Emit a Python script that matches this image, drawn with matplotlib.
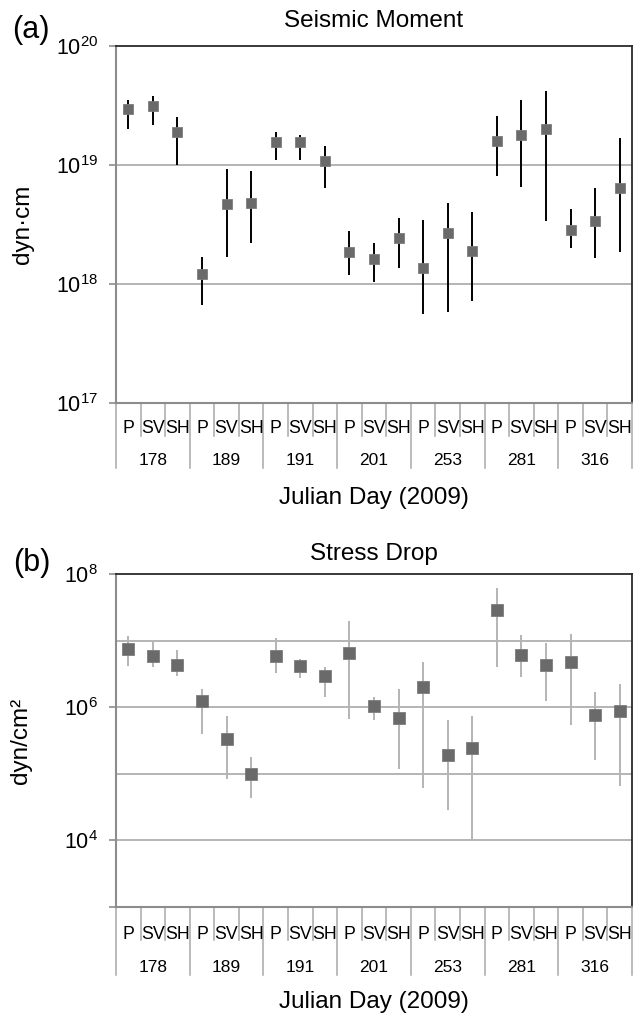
import matplotlib
matplotlib.use('Agg')
import matplotlib.pyplot as plt
import numpy as np
from matplotlib.transforms import blended_transform_factory
from matplotlib.ticker import FixedLocator, FixedFormatter, NullLocator

plt.rcParams['font.family'] = ['Liberation Sans', 'DejaVu Sans']
plt.rcParams['mathtext.fontset'] = 'custom'
plt.rcParams['mathtext.rm'] = 'Liberation Sans'
plt.rcParams['mathtext.it'] = 'Liberation Sans:italic'

# ---------------- data ----------------
days = ['178', '189', '191', '201', '253', '281', '316']
phases = ['P', 'SV', 'SH']

moment = [2.93e19, 3.14e19, 1.9e19, 1.21e18, 4.68e18, 4.82e18, 1.57e19, 1.55e19, 1.08e19,
          1.86e18, 1.62e18, 2.42e18, 1.37e18, 2.66e18, 1.9e18, 1.58e19, 1.78e19, 2.0e19,
          2.86e18, 3.37e18, 6.4e18]
moment_hi = [3.5e19, 3.78e19, 2.53e19, 1.69e18, 9.3e18, 8.9e18, 1.9e19, 1.8e19, 1.44e19,
             2.78e18, 2.2e18, 3.6e18, 3.44e18, 4.8e18, 4.06e18, 2.6e19, 3.5e19, 4.16e19,
             4.27e18, 6.4e18, 1.69e19]
moment_lo = [2.0e19, 2.15e19, 1.0e19, 6.7e17, 1.7e18, 2.2e18, 1.1e19, 1.1e19, 6.4e18,
             1.19e18, 1.03e18, 1.35e18, 5.6e17, 5.8e17, 7.2e17, 8.15e18, 6.56e18, 3.37e18,
             2.0e18, 1.66e18, 1.86e18]

stress = [7.6e6, 5.9e6, 4.3e6, 1.24e6, 3.3e5, 1.0e5, 5.9e6, 4.1e6, 2.9e6,
          6.5e6, 1.03e6, 7.0e5, 2.02e6, 1.92e5, 2.4e5, 2.9e7, 6.1e6, 4.3e6,
          4.7e6, 7.6e5, 8.7e5]
stress_hi = [1.18e7, 9.6e6, 7.3e6, 1.87e6, 7.3e5, 1.77e5, 1.09e7, 5.3e6, 3.95e6,
             1.94e7, 1.41e6, 1.87e6, 4.7e6, 6.4e5, 7.3e5, 6.1e7, 1.2e7, 9.1e6,
             1.24e7, 1.68e6, 2.2e6]
stress_lo = [4.2e6, 3.95e6, 2.9e6, 3.97e5, 8.45e4, 4.3e4, 3.3e6, 2.76e6, 1.43e6,
             6.7e5, 6.5e5, 1.2e5, 6.2e4, 2.9e4, 1.0e4, 4.0e6, 2.8e6, 1.24e6,
             5.4e5, 1.63e5, 6.5e4]

top_ticks = [1e17, 1e18, 1e19, 1e20]
top_ticklabels = [r'$10^{17}$', r'$10^{18}$', r'$10^{19}$', r'$10^{20}$']
top_grid = [1e18, 1e19]
bot_ticks = [1e3, 1e4, 1e6, 1e8]
bot_ticklabels = ['', r'$10^{4}$', r'$10^{6}$', r'$10^{8}$']
bot_grid = [1e4, 1e5, 1e6, 1e7]

# ---------------- figure ----------------
W, H = 633, 1021
fig = plt.figure(figsize=(W / 100, H / 100), dpi=100)


def px_axes(left, top, right, bottom):
    return fig.add_axes([left / W, 1 - bottom / H, (right - left) / W, (bottom - top) / H])


def panel(ax, vals, hi, lo, ecolor, msize, ylim, ticks, ticklabels, grid, hpx,
          cat_base, grp_base, cat_sep, grp_sep):
    vals = np.array(vals); hi = np.array(hi); lo = np.array(lo)
    labels = [p for _ in days for p in phases]
    n = len(labels)
    x = np.arange(n) + 0.5
    ax.errorbar(x, vals, yerr=[vals - lo, hi - vals], fmt='none', ecolor=ecolor,
                elinewidth=1.4, capsize=0, zorder=3)
    ax.plot(x, vals, 's', ms=msize, mfc='#6a6a6a', mec='#7c7c7c', mew=0.6, zorder=4,
            linestyle='none')
    ax.set_yscale('log')
    ax.set_ylim(ylim)
    ax.set_xlim(0, n)
    for g in grid:
        ax.axhline(g, color='#a8a8a8', lw=1.2, zorder=1)
    ax.yaxis.set_major_locator(FixedLocator(ticks))
    ax.yaxis.set_major_formatter(FixedFormatter(ticklabels))
    ax.yaxis.set_minor_locator(NullLocator())
    ax.tick_params(axis='y', length=5, width=1.2, color='#8c8c8c', pad=8, labelsize=15.5)
    ax.set_xticks([])
    for s in ['top', 'right']:
        ax.spines[s].set_color('#2a2a2a')
        ax.spines[s].set_linewidth(1.3)
    for s in ['left', 'bottom']:
        ax.spines[s].set_color('#8c8c8c')
        ax.spines[s].set_linewidth(1.5)
    trans = blended_transform_factory(ax.transData, ax.transAxes)
    for i in range(n + 1):
        depth = grp_sep if i % 3 == 0 else cat_sep
        ax.plot([i, i], [0, -depth / hpx], transform=trans, color='#a8a8a8', lw=1.1,
                clip_on=False)
    for i, lab in enumerate(labels):
        ax.text(i + 0.5, -cat_base / hpx, lab, transform=trans, ha='center',
                va='baseline', fontsize=12.8)
    for j, d in enumerate(days):
        ax.text(3 * j + 1.5, -grp_base / hpx, d, transform=trans, ha='center',
                va='baseline', fontsize=12.5)


ax1 = px_axes(116, 46, 632, 403)
panel(ax1, moment, moment_hi, moment_lo, '#000000', 6.8, (1e17, 1e20), top_ticks,
      top_ticklabels, top_grid, 403 - 46, 29.5, 62, 33, 65)

ax2 = px_axes(116, 574, 632, 907)
panel(ax2, stress, stress_hi, stress_lo, '#b4b4b4', 8.6, (1e3, 1e8), bot_ticks,
      bot_ticklabels, bot_grid, 907 - 574, 32, 65, 33, 68)

cx = (116 + 632) / 2 / W
fig.text(cx, 1 - 27 / H, 'Seismic Moment', ha='center', va='baseline', fontsize=17.5)
fig.text(cx, 1 - 560 / H, 'Stress Drop', ha='center', va='baseline', fontsize=17.5)
fig.text(cx, 1 - 504 / H, 'Julian Day (2009)', ha='center', va='baseline', fontsize=17.5)
fig.text(cx, 1 - 1008 / H, 'Julian Day (2009)', ha='center', va='baseline', fontsize=17.5)
fig.text(23.5 / W, 1 - 224.5 / H, 'dyn·cm', rotation=90, ha='center', va='center',
         fontsize=17.5)
fig.text(21 / W, 1 - 740.5 / H, 'dyn/cm²', rotation=90, ha='center', va='center',
         fontsize=17.5)
fig.text(31 / W, 1 - 30 / H, '(a)', ha='center', va='center', fontsize=22)
fig.text(32 / W, 1 - 563 / H, '(b)', ha='center', va='center', fontsize=22)

fig.savefig('out.png', dpi=100)
